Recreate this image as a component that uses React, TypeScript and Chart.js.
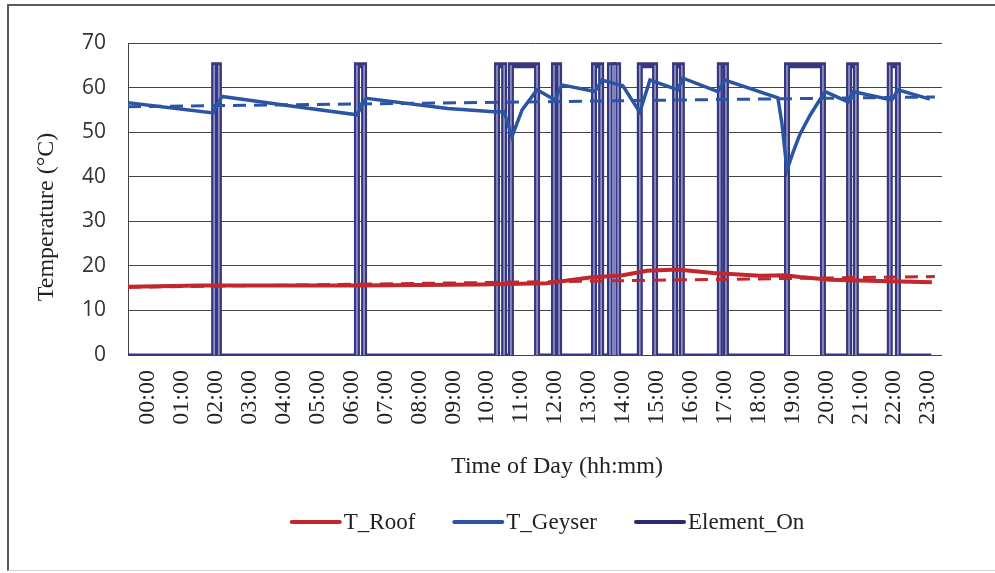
import React, { useEffect, useRef } from 'react';
import { Chart, registerables } from 'chart.js';

Chart.register(...registerables);

// ---------- data ----------
const hourTicks = [0, 1, 2, 3, 4, 5, 6, 7, 8, 9, 10, 11, 12, 13, 14, 15, 16, 17, 18, 19, 20, 21, 22, 23];
const hourLabels = [
  '00:00', '01:00', '02:00', '03:00', '04:00', '05:00', '06:00', '07:00', '08:00', '09:00', '10:00', '11:00',
  '12:00', '13:00', '14:00', '15:00', '16:00', '17:00', '18:00', '19:00', '20:00', '21:00', '22:00', '23:00',
];

const geyserTimes = [
  -0.59, 1.92, 2.18, 4.0, 6.16, 6.43, 8.84, 10.29, 10.5, 10.73, 11.03, 11.47, 12.0, 12.2, 13.18, 13.38, 14.0,
  14.5, 14.8, 15.62, 15.77, 16.8, 17.01, 18.57, 18.69, 18.84, 19.02, 19.22, 19.52, 19.96, 20.64, 20.78, 21.93,
  22.11, 23.05,
];
const geyserTemps = [
  56.6, 54.3, 58.0, 56.1, 53.9, 57.6, 55.3, 54.5, 54.6, 49.0, 55.0, 59.5, 57.2, 60.6, 59.1, 61.7, 60.4, 54.5,
  61.7, 59.5, 62.1, 59.1, 61.7, 57.7, 52.0, 41.5, 45.5, 49.5, 53.8, 59.1, 56.8, 59.1, 57.2, 59.5, 57.4,
];

const roofTimes = [-0.59, 1.53, 6.25, 9.79, 11.76, 13.03, 14.0, 14.71, 15.6, 16.67, 18.04, 18.78, 19.22, 20.11, 21.58, 23.11];
const roofTemps = [15.3, 15.6, 15.6, 15.8, 16.1, 17.4, 17.9, 18.9, 19.2, 18.4, 17.8, 17.9, 17.5, 16.9, 16.6, 16.3];

const trendTimes = [-0.59, 23.2];
const geyserTrend = [55.7, 57.9];
const roofTrend = [15.2, 17.6];

const elementOnTimes = [1.95, 6.16, 10.29, 10.7, 11.97, 13.15, 13.62, 13.77, 14.5, 15.54, 16.86, 18.84, 20.67, 21.87];
const elementOffTimes = [2.09, 6.37, 10.5, 11.47, 12.12, 13.36, 13.71, 13.86, 14.95, 15.74, 17.04, 19.9, 20.87, 22.11];
const elementSpan = [-0.59, 23.05];
const elementOnLevel = 65;

const seriesNames = ['T_Roof', 'T_Geyser', 'Element_On'];
const xTitle = 'Time of Day (hh:mm)';
const yTitle = 'Temperature (°C)';

// ---------- styles ----------
const RED = '#c1272d';
const BLUE = '#2b55a3';
const NAVY = '#2a2a6e';
const PULSE = '#36377e';
const PULSE_CORE = '#9698cc';
const SERIF = '"Liberation Serif", "Times New Roman", serif';

function zip(xs: number[], ys: number[]) {
  return xs.map((x, i) => ({ x, y: ys[i] }));
}

function buildElement() {
  const pts: { x: number; y: number }[] = [{ x: elementSpan[0], y: 0 }];
  elementOnTimes.forEach((on, i) => {
    const off = elementOffTimes[i];
    pts.push({ x: on, y: 0 }, { x: on, y: elementOnLevel }, { x: off, y: elementOnLevel }, { x: off, y: 0 });
  });
  pts.push({ x: elementSpan[1], y: 0 });
  return pts;
}

const textPlugin = {
  id: 'customText',
  afterDraw(chart: any) {
    const ctx = chart.ctx as CanvasRenderingContext2D;
    ctx.save();
    ctx.fillStyle = '#222';
    ctx.textBaseline = 'middle';
    // y title
    ctx.font = `24px ${SERIF}`;
    ctx.textAlign = 'center';
    ctx.save();
    ctx.translate(47, 217);
    ctx.rotate(-Math.PI / 2);
    ctx.fillText(yTitle, 0, 0);
    ctx.restore();
    // x title
    ctx.font = `24px ${SERIF}`;
    ctx.fillText(xTitle, 557, 467);
    // legend
    ctx.font = `23px ${SERIF}`;
    const colors = [RED, BLUE, NAVY];
    const lineLen = 48;
    const gap = 4;
    const itemGap = 39;
    const widths = seriesNames.map((n) => ctx.measureText(n).width);
    const total = widths.reduce((a, w) => a + w + lineLen + gap, 0) + itemGap * (seriesNames.length - 1);
    let x = 548 - total / 2;
    const y = 522;
    ctx.textAlign = 'left';
    seriesNames.forEach((n, i) => {
      ctx.strokeStyle = colors[i];
      ctx.lineWidth = 4;
      ctx.lineCap = 'round';
      ctx.beginPath();
      ctx.moveTo(x, y);
      ctx.lineTo(x + lineLen, y);
      ctx.stroke();
      x += lineLen + gap;
      ctx.fillText(n, x, y + 1);
      x += widths[i] + itemGap;
    });
    ctx.restore();
  },
};

const isFlat = (c: any) => c.p0.parsed.y === c.p1.parsed.y;
const isBase = (c: any) => isFlat(c) && c.p0.parsed.y === 0;

export default function App() {
  const ref = useRef<HTMLCanvasElement | null>(null);

  useEffect(() => {
    if (!ref.current) return;
    const element = buildElement();
    const chart = new Chart(ref.current, {
      type: 'line',
      data: {
        datasets: [
          { label: seriesNames[0], data: zip(roofTimes, roofTemps), borderColor: RED, borderWidth: 4, order: 1 },
          { label: seriesNames[1], data: zip(geyserTimes, geyserTemps), borderColor: BLUE, borderWidth: 3.5, order: 2 },
          {
            label: 'roof trend', data: zip(trendTimes, roofTrend), borderColor: RED, borderWidth: 3,
            borderDash: [13, 8], order: 3,
          },
          {
            label: 'geyser trend', data: zip(trendTimes, geyserTrend), borderColor: BLUE, borderWidth: 3,
            borderDash: [13, 8], order: 3,
          },
          {
            label: 'element inner', data: element, borderColor: PULSE_CORE, borderWidth: 1.6, order: 4,
            segment: {
              borderColor: (c: any) => (isFlat(c) ? 'rgba(0,0,0,0)' : PULSE_CORE),
            },
          },
          {
            label: seriesNames[2], data: element, borderColor: PULSE, borderWidth: 6, order: 5,
            borderCapStyle: 'square',
            segment: {
              borderWidth: (c: any) => (isBase(c) ? 3 : 6),
            },
          },
        ],
      },
      plugins: [textPlugin],
      options: {
        responsive: false,
        animation: false,
        devicePixelRatio: 1,
        layout: { padding: { top: 43, right: 53, left: 0, bottom: 0 } },
        elements: { point: { radius: 0 }, line: { tension: 0, fill: false } },
        plugins: { legend: { display: false }, tooltip: { enabled: false } },
        scales: {
          x: {
            type: 'linear',
            min: elementSpan[0],
            max: 23.41,
            afterBuildTicks: (s: any) => {
              s.ticks = hourTicks.map((v) => ({ value: v }));
            },
            afterFit: (s: any) => {
              s.height = 573 - 355;
            },
            ticks: {
              autoSkip: false,
              maxRotation: 90,
              minRotation: 90,
              padding: 15,
              color: '#222',
              font: { family: SERIF, size: 24 },
              callback: (v: any) => hourLabels[hourTicks.indexOf(Number(v))] ?? '',
            },
            grid: { display: false, drawTicks: false },
            border: { display: false },
          },
          y: {
            min: 0,
            max: 70,
            afterFit: (s: any) => {
              s.width = 128;
            },
            ticks: {
              stepSize: 10,
              padding: 22,
              color: '#333',
              font: { family: '"Open Sans", "Liberation Sans", sans-serif', size: 21 },
            },
            grid: { color: '#444', lineWidth: 1, drawTicks: false },
            border: { display: true, color: '#444', width: 1 },
          },
        },
      },
    });
    return () => chart.destroy();
  }, []);

  return (
    <div style={{ position: 'fixed', left: 0, top: 0, width: 995, height: 573, overflow: 'hidden', background: '#fff' }}>
      <div
        style={{
          position: 'absolute', left: 7, top: 4, width: 1000, height: 564,
          borderTop: '2px solid #5a5a5a', borderLeft: '2px solid #5a5a5a', borderBottom: '1px solid #d6d6d6',
        }}
      />
      <canvas ref={ref} width={995} height={573} style={{ position: 'absolute', left: 0, top: 0, width: 995, height: 573 }} />
    </div>
  );
}
